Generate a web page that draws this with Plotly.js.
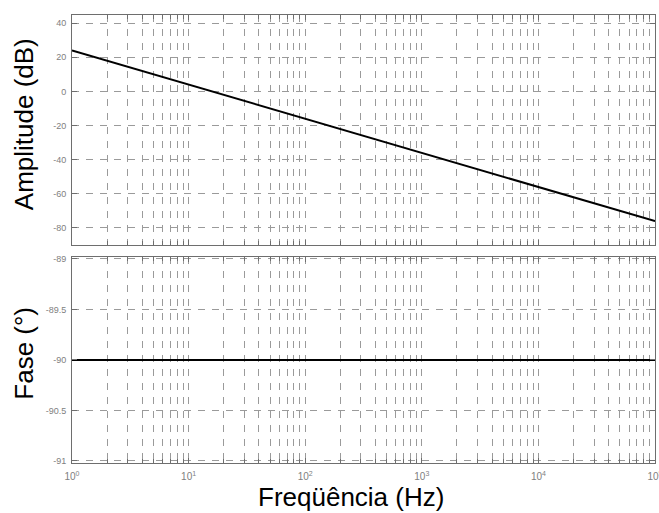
<!DOCTYPE html>
<html>
<head>
<meta charset="utf-8">
<script src="https://cdn.plot.ly/plotly-3.0.1.min.js"></script>
<style>html,body{margin:0;padding:0;background:#fff;}#chart{width:659px;height:513px;}</style>
</head>
<body>
<div id="chart"></div>
<script>
const freqHz = [1, 10, 100, 1000, 10000, 100000];
const amplitudeDb = [24, 4, -16, -36, -56, -76];
const phaseDeg = [-90, -90, -90, -90, -90, -90];
const freqTicks = [1, 10, 100, 1000, 10000, 100000];
const freqTickText = ['10<sup>0</sup>', '10<sup>1</sup>', '10<sup>2</sup>', '10<sup>3</sup>', '10<sup>4</sup>', '10<sup>5</sup>'];
const ampTicks = [-80, -60, -40, -20, 0, 20, 40];
const ampTickText = ['-80', '-60', '-40', '-20', '0', '20', '40'];
const phaseTicks = [-91, -90.5, -90, -89.5, -89];
const phaseTickText = ['-91', '-90.5', '-90', '-89.5', '-89'];
const titles = {amp: 'Amplitude (dB)', phase: 'Fase (°)', freq: 'Freqüência (Hz)'};

const gridCol = '#9a9a9a';
const axCol = '#6e6e6e';
const dash = '7px,7px';
const tickFont = {family: 'Liberation Sans, Arial, sans-serif', size: 9, color: '#808080'};
const xTickFont = {family: 'Liberation Sans, Arial, sans-serif', size: 10, color: '#808080'};
const titleFont = {family: 'Liberation Sans, Arial, sans-serif', size: 26, color: '#000'};

function xAx(showLabels, anchor) {
  return {
    type: 'log', range: [0, 5], anchor: anchor,
    showgrid: true, gridcolor: gridCol, griddash: dash, gridwidth: 1,
    tickmode: 'array', tickvals: freqTicks, ticktext: freqTickText,
    showticklabels: showLabels, ticklabeloverflow: 'allow', ticklabelstandoff: 4,
    tickfont: xTickFont, ticks: 'inside', ticklen: 5, tickcolor: axCol,
    showline: true, linecolor: axCol, linewidth: 1, mirror: 'ticks',
    zeroline: false,
    minor: {dtick: 'D1', showgrid: true, gridcolor: gridCol, griddash: dash, gridwidth: 1,
            ticks: 'inside', ticklen: 4, tickcolor: axCol}
  };
}
function yAx(domain, range, tickvals, ticktext, anchor) {
  return {
    domain: domain, range: range, anchor: anchor,
    tickmode: 'array', tickvals: tickvals, ticktext: ticktext,
    showgrid: true, gridcolor: gridCol, griddash: dash, gridwidth: 1,
    tickfont: tickFont, ticks: 'inside', ticklen: 5, tickcolor: axCol,
    ticklabelstandoff: 3,
    showline: true, linecolor: axCol, linewidth: 1, mirror: 'ticks',
    zeroline: false
  };
}

const data = [
  {x: freqHz, y: amplitudeDb, xaxis: 'x', yaxis: 'y', mode: 'lines', line: {color: '#000', width: 2}, hoverinfo: 'none'},
  {x: freqHz, y: phaseDeg, xaxis: 'x2', yaxis: 'y2', mode: 'lines', line: {color: '#000', width: 2}, hoverinfo: 'none'}
];

const layout = {
  width: 659, height: 513,
  margin: {l: 72, r: 4, t: 15, b: 50},
  paper_bgcolor: '#fff', plot_bgcolor: '#fff',
  showlegend: false,
  xaxis: xAx(false, 'y'),
  yaxis: yAx([0.4857, 1], [-90.2, 44.7], ampTicks, ampTickText, 'x'),
  xaxis2: xAx(true, 'y2'),
  yaxis2: yAx([0, 0.46], [-91.02, -88.98], phaseTicks, phaseTickText, 'x2'),
  annotations: [
    {text: titles.amp, xref: 'paper', yref: 'paper', x: -0.0823, y: 0.7563, xanchor: 'center', yanchor: 'middle',
     textangle: -90, showarrow: false, font: titleFont},
    {text: titles.phase, xref: 'paper', yref: 'paper', x: -0.0823, y: 0.244, xanchor: 'center', yanchor: 'middle',
     textangle: -90, showarrow: false, font: titleFont},
    {text: titles.freq, xref: 'paper', yref: 'paper', x: 0.4786, y: 0, yshift: -34, xanchor: 'center', yanchor: 'middle',
     showarrow: false, font: titleFont}
  ]
};

Plotly.newPlot('chart', data, layout, {staticPlot: true, displayModeBar: false});
</script>
</body>
</html>
